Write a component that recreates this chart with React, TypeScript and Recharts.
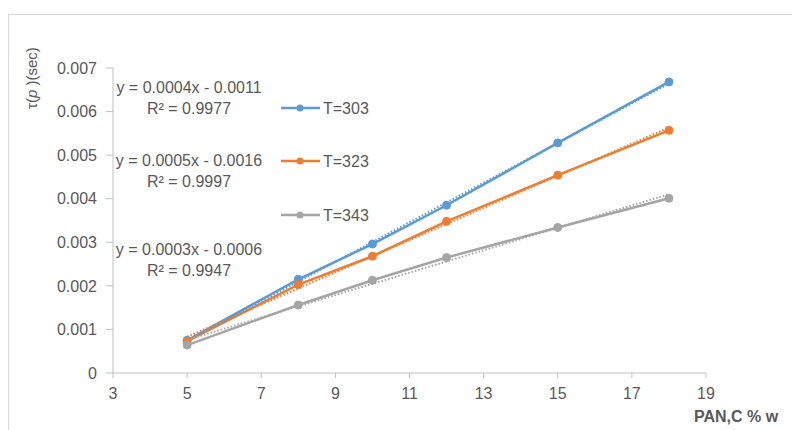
import React from "react";
import { LineChart, Line, XAxis, YAxis, Legend, Customized } from "recharts";

const xValues = [5, 8, 10, 12, 15, 18];
const t303 = [0.00075, 0.00215, 0.00296, 0.00385, 0.00528, 0.00668];
const t323 = [0.00073, 0.00203, 0.00268, 0.00348, 0.00454, 0.00557];
const t343 = [0.00064, 0.00156, 0.00213, 0.00265, 0.00334, 0.00401];
const seriesNames = ["T=303", "T=323", "T=343"];
const xTicks = [3, 5, 7, 9, 11, 13, 15, 17, 19];
const yTicks = [0, 0.001, 0.002, 0.003, 0.004, 0.005, 0.006, 0.007];
const equations = [
  ["y = 0.0004x - 0.0011", "R² = 0.9977"],
  ["y = 0.0005x - 0.0016", "R² = 0.9997"],
  ["y = 0.0003x - 0.0006", "R² = 0.9947"],
];

const COLORS = ["#5B9BD5", "#ED7D31", "#A5A5A5"];
const TEXT = "#595959";
const FONT = "'Liberation Sans', Arial, sans-serif";

function linFit(xs: number[], ys: number[]) {
  const n = xs.length;
  const mx = xs.reduce((a, b) => a + b, 0) / n;
  const my = ys.reduce((a, b) => a + b, 0) / n;
  let sxy = 0, sxx = 0;
  for (let i = 0; i < n; i++) {
    sxy += (xs[i] - mx) * (ys[i] - my);
    sxx += (xs[i] - mx) * (xs[i] - mx);
  }
  const m = sxy / sxx;
  return { m, b: my - m * mx };
}

const allSeries = [t303, t323, t343];
const fits = allSeries.map((s) => linFit(xValues, s));

const data = xValues.map((x, i) => ({
  x,
  s0: t303[i],
  s1: t323[i],
  s2: t343[i],
  f0: fits[0].m * x + fits[0].b,
  f1: fits[1].m * x + fits[1].b,
  f2: fits[2].m * x + fits[2].b,
}));

const legendRowsY = [10, 63, 117];

const LegendContent = () => (
  <svg width={110} height={130} style={{ display: "block" }}>
    {seriesNames.map((name, i) => (
      <g key={name}>
        <line x1={0} x2={39} y1={legendRowsY[i]} y2={legendRowsY[i]} stroke={COLORS[i]} strokeWidth={2.5} />
        <circle cx={19} cy={legendRowsY[i]} r={3.5} fill={COLORS[i]} />
        <text x={42} y={legendRowsY[i]} dominantBaseline="central" fontSize={16} fill={TEXT} fontFamily={FONT}>
          {name}
        </text>
      </g>
    ))}
  </svg>
);

const eqY = [87, 160, 249];

const Annotations = () => (
  <g>
    {equations.map((eq, i) => (
      <g key={i}>
        <text x={189} y={eqY[i]} textAnchor="middle" dominantBaseline="central" fontSize={16} fill={TEXT} fontFamily={FONT}>
          {eq[0]}
        </text>
        <text x={189} y={eqY[i] + 21} textAnchor="middle" dominantBaseline="central" fontSize={16} fill={TEXT} fontFamily={FONT}>
          {eq[1]}
        </text>
      </g>
    ))}
    <text x={736} y={416} textAnchor="middle" dominantBaseline="central" fontSize={16} fontWeight="bold" fill={TEXT} fontFamily={FONT}>
      PAN,C % w
    </text>
    <text
      x={31}
      y={78}
      transform="rotate(-90, 31, 78)"
      textAnchor="middle"
      dominantBaseline="central"
      fontSize={15}
      fill={TEXT}
      fontFamily={FONT}
    >
      τ(<tspan fontStyle="italic">p</tspan> )(sec)
    </text>
  </g>
);

export default function App() {
  return (
    <div style={{ position: "absolute", left: 0, top: 0, width: 792, height: 430, overflow: "hidden", background: "#fff" }}>
      <div
        style={{
          position: "absolute",
          left: 8,
          top: 14,
          width: 820,
          height: 460,
          border: "1px solid #d9d9d9",
          boxSizing: "border-box",
        }}
      />
      <div style={{ position: "absolute", left: 0, top: 0 }}>
        <LineChart width={792} height={430} data={data} margin={{ top: 68, right: 86, bottom: 27, left: 53 }}>
          <XAxis
            dataKey="x"
            type="number"
            domain={[3, 19]}
            ticks={xTicks}
            height={30}
            stroke="#bfbfbf"
            tickSize={5}
            tickMargin={10}
            tick={{ fill: TEXT, fontSize: 16, fontFamily: FONT }}
          />
          <YAxis
            type="number"
            domain={[0, 0.007]}
            ticks={yTicks}
            width={60}
            stroke="#bfbfbf"
            tickSize={7}
            tickMargin={9}
            tickFormatter={(v: number) => (v === 0 ? "0" : v.toFixed(3))}
            tick={{ fill: TEXT, fontSize: 16, fontFamily: FONT }}
          />
          {[0, 1, 2].map((i) => (
            <Line
              key={"s" + i}
              dataKey={"s" + i}
              name={seriesNames[i]}
              stroke={COLORS[i]}
              strokeWidth={2.5}
              dot={{ r: 4, fill: COLORS[i], stroke: COLORS[i], strokeWidth: 1 }}
              activeDot={false}
              isAnimationActive={false}
            />
          ))}
          {[0, 1, 2].map((i) => (
            <Line
              key={"f" + i}
              dataKey={"f" + i}
              name={seriesNames[i] + " trend"}
              stroke={COLORS[i]}
              strokeWidth={2}
              strokeDasharray="1.5 2"
              dot={false}
              activeDot={false}
              legendType="none"
              isAnimationActive={false}
            />
          ))}
          <Legend
            layout="vertical"
            align="center"
            verticalAlign="middle"
            content={<LegendContent />}
            wrapperStyle={{ position: "absolute", left: 281, top: 98, width: 110, height: 130 }}
          />
          <Customized component={<Annotations />} />
        </LineChart>
      </div>
    </div>
  );
}
